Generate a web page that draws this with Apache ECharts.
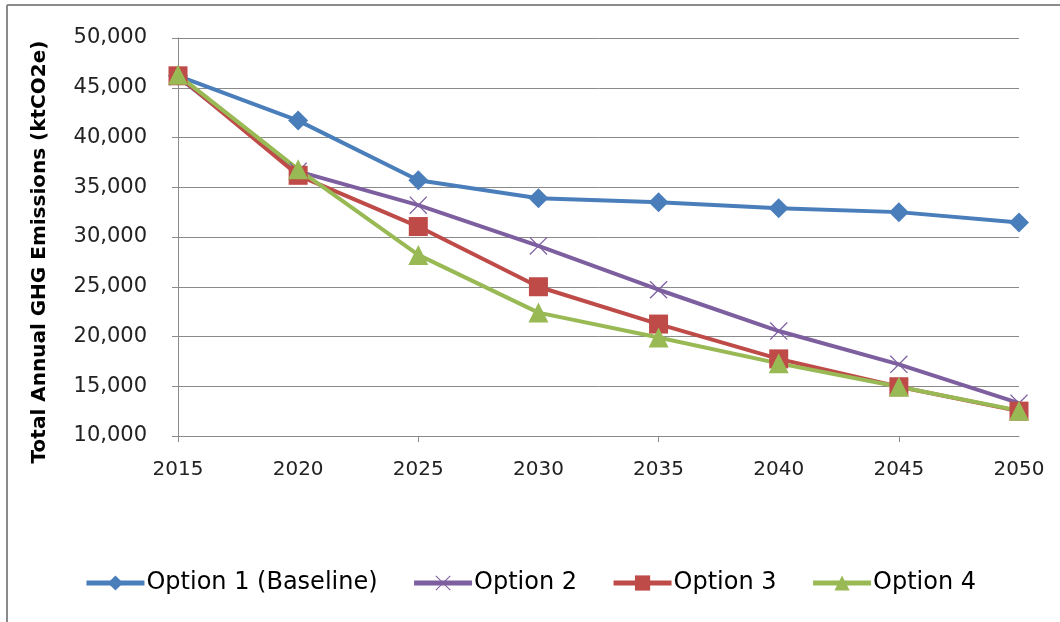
<!DOCTYPE html>
<html>
<head>
<meta charset="utf-8">
<script src="https://cdn.jsdelivr.net/npm/echarts@6/dist/echarts.min.js"></script>
<style>
html,body{margin:0;padding:0;background:#fff;}
#chart{width:1060px;height:622px;}
</style>
</head>
<body>
<div id="chart"></div>
<script>
const years = ['2015','2020','2025','2030','2035','2040','2045','2050'];
const option1 = [46200, 41700, 35700, 33900, 33500, 32900, 32500, 31450];
const option2 = [46100, 36600, 33200, 29100, 24700, 20550, 17200, 13300];
const option3 = [46200, 36200, 31050, 25000, 21250, 17750, 14950, 12500];
const option4 = [46300, 36800, 28200, 22400, 19900, 17300, 14950, 12550];
const seriesNames = ['Option 1 (Baseline)', 'Option 2', 'Option 3', 'Option 4'];
const yTicks = {min: 10000, max: 50000, interval: 5000};

const FONT = 'DejaVu Sans';
const crossPath = 'path://M0,5L5,0L50,45L95,0L100,5L55,50L100,95L95,100L50,55L5,100L0,95L45,50Z';

const chart = echarts.init(document.getElementById('chart'), null, {renderer: 'canvas'});
const mk = (name, data, color, symbol, size) => ({
  name, type: 'line', data,
  symbol, symbolSize: size,
  lineStyle: {width: 4, color},
  itemStyle: {color},
  emphasis: {disabled: true},
  animation: false
});
chart.setOption({
  animation: false,
  graphic: [
    {type: 'line', shape: {x1: 7, y1: 5, x2: 1060, y2: 5}, style: {stroke: '#8a8a8a', lineWidth: 2}},
    {type: 'line', shape: {x1: 7, y1: 5, x2: 7, y2: 622}, style: {stroke: '#8a8a8a', lineWidth: 2}}
  ],
  grid: {left: 178, right: 41, top: 38, bottom: 186, containLabel: false},
  legend: {
    data: seriesNames,
    bottom: 22,
    left: 'center',
    itemWidth: 58,
    itemHeight: 19,
    itemGap: 34,
    lineStyle: {width: 5},
    textStyle: {fontFamily: FONT, fontSize: 24, color: '#000', padding: [0, 0, 0, -3]}
  },
  xAxis: {
    type: 'category',
    data: years,
    boundaryGap: false,
    axisLine: {lineStyle: {color: '#8a8a8a', width: 1}},
    axisTick: {show: true, interval: 1, length: 6, lineStyle: {color: '#8a8a8a'}},
    axisLabel: {fontFamily: FONT, fontSize: 20, color: '#222', margin: 24},
    splitLine: {show: false}
  },
  yAxis: {
    type: 'value',
    min: yTicks.min, max: yTicks.max, interval: yTicks.interval,
    name: 'Total Annual GHG Emissions (ktCO2e)',
    nameLocation: 'middle',
    nameGap: 128,
    nameTextStyle: {fontFamily: FONT, fontSize: 20, fontWeight: 'bold', color: '#000', padding: [0, 30, 0, 0]},
    axisLine: {show: true, lineStyle: {color: '#8a8a8a', width: 1}},
    axisTick: {show: true, length: 6, lineStyle: {color: '#8a8a8a'}},
    axisLabel: {fontFamily: FONT, fontSize: 21, color: '#222', margin: 31,
      formatter: v => v.toLocaleString('en-US')},
    splitLine: {show: true, lineStyle: {color: '#8a8a8a', width: 1}}
  },
  series: [
    mk(seriesNames[0], option1, '#4a7ebb', 'diamond', 20),
    mk(seriesNames[1], option2, '#7d5fa0', crossPath, 18),
    mk(seriesNames[2], option3, '#be4b48', 'rect', 19),
    mk(seriesNames[3], option4, '#98b954', 'triangle', 20)
  ]
});
</script>
</body>
</html>
